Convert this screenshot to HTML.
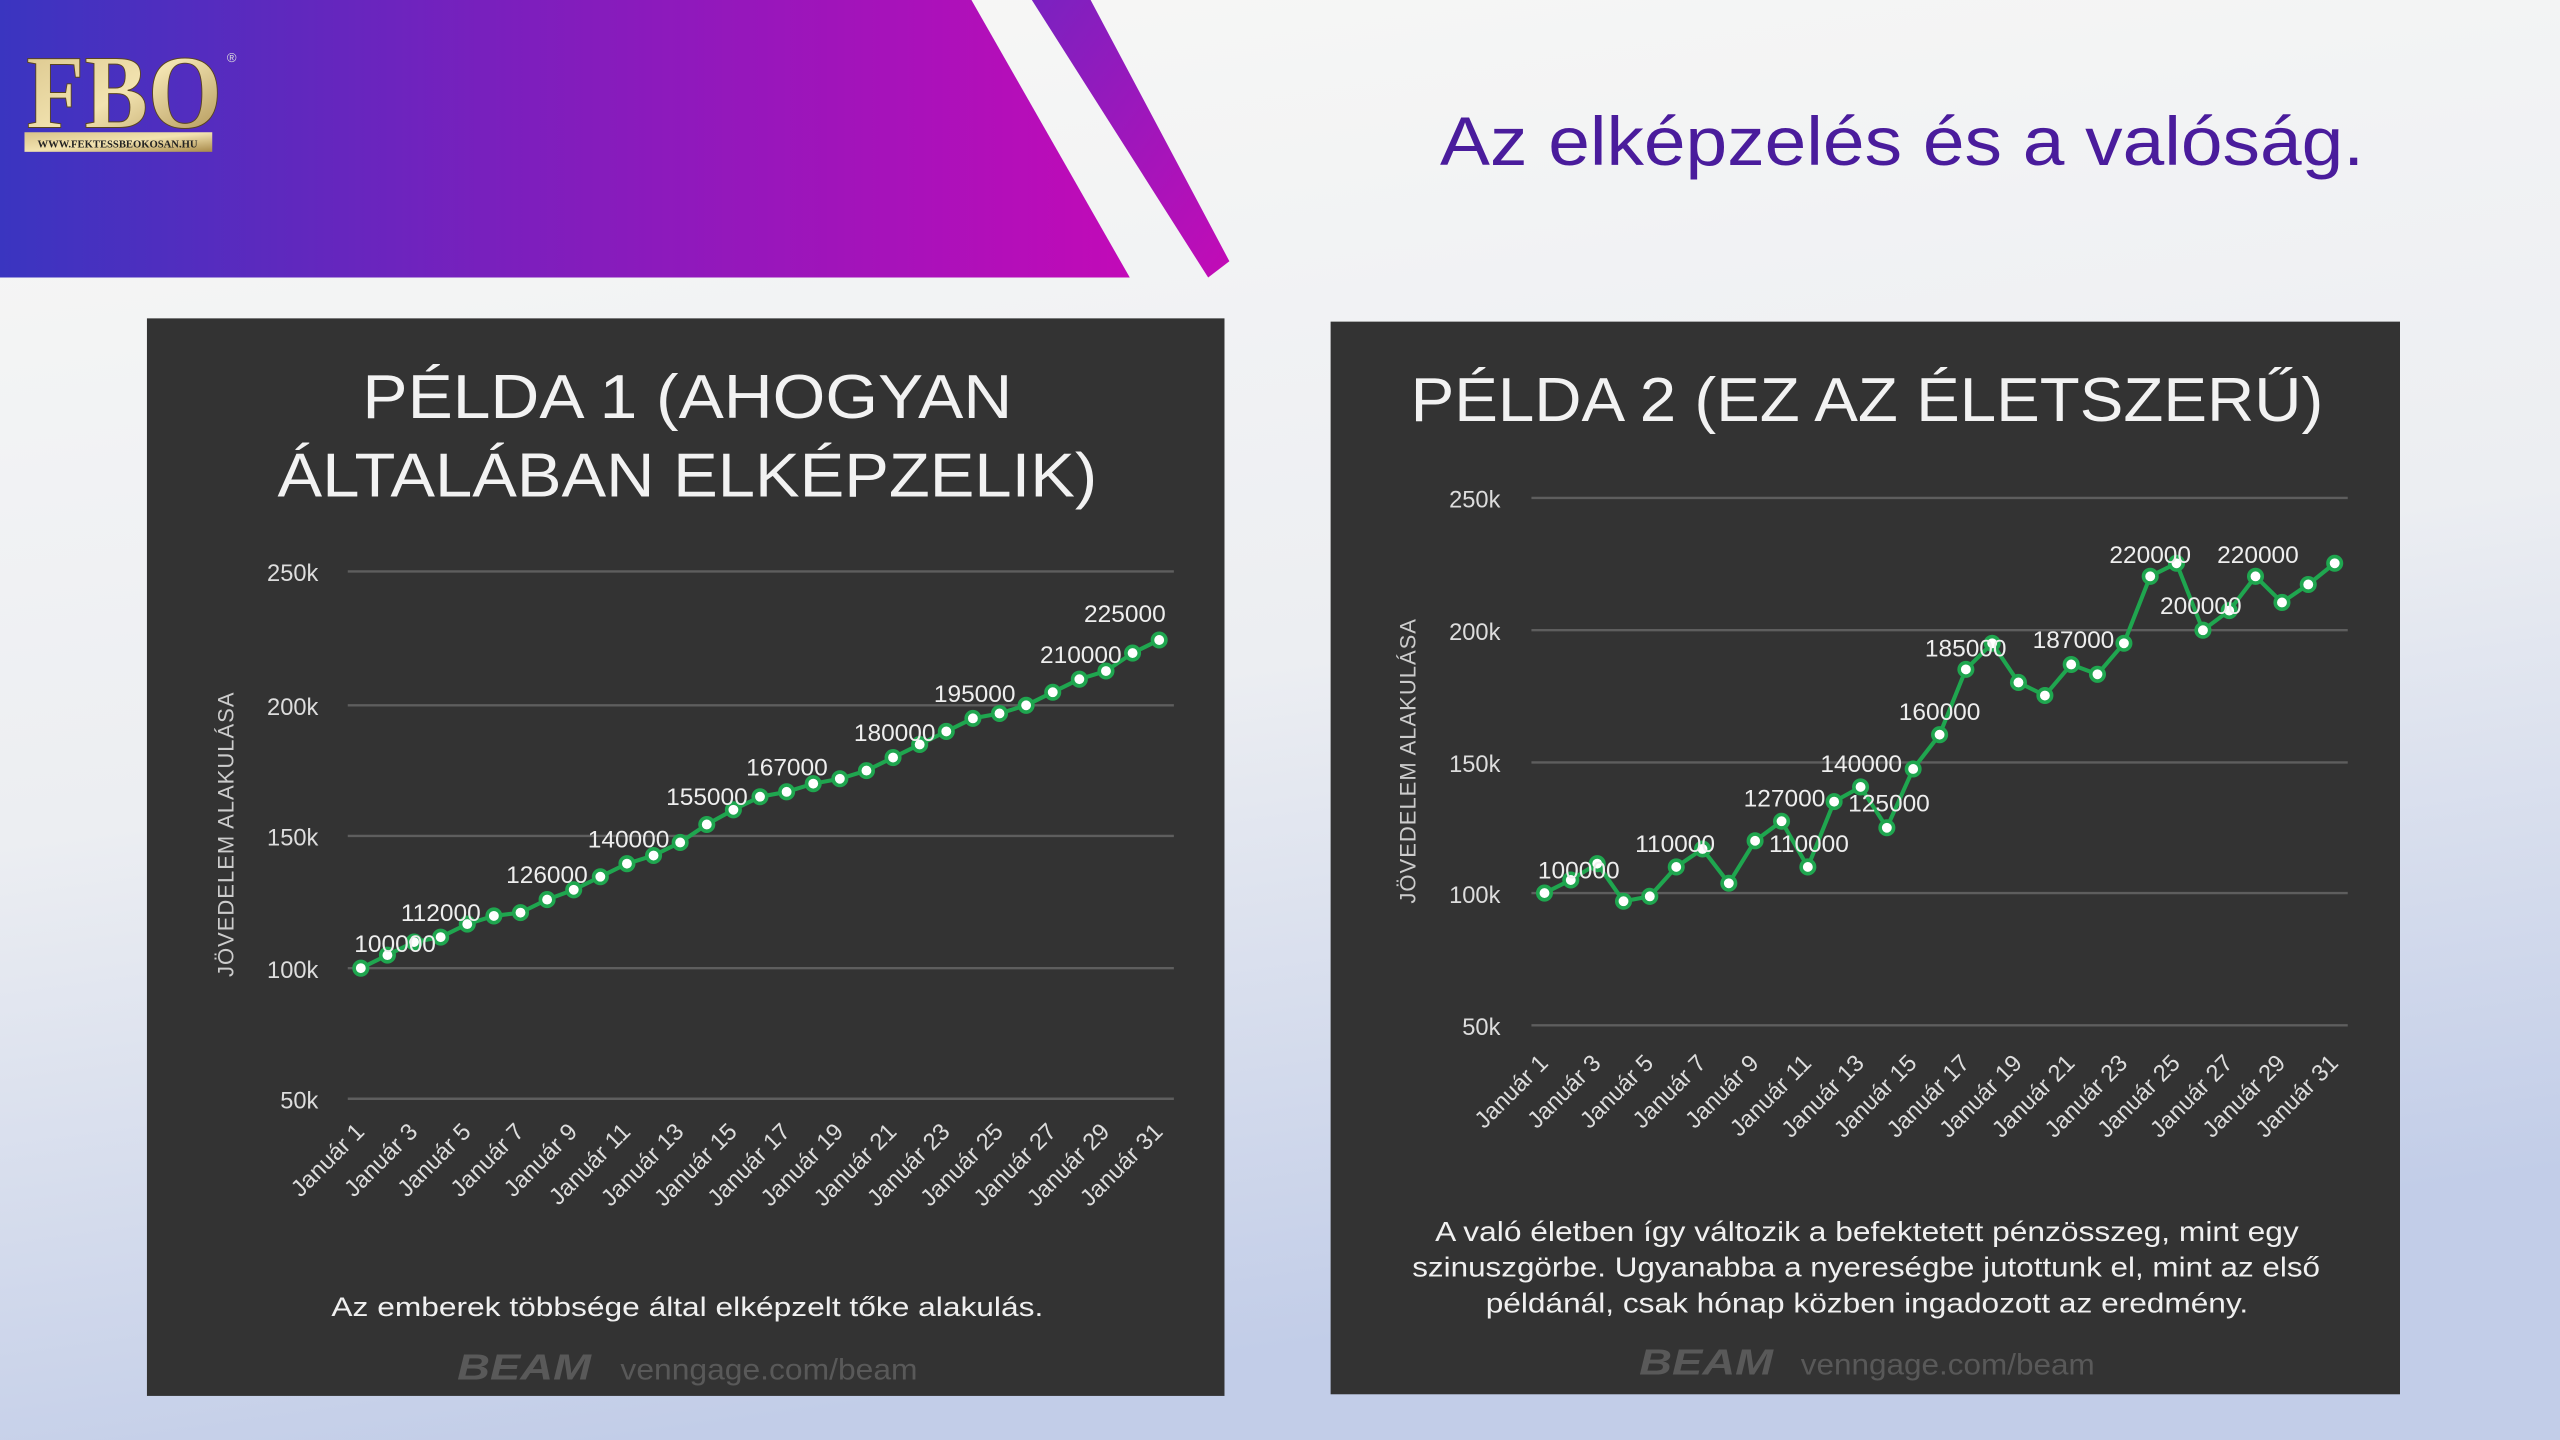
<!DOCTYPE html>
<html><head><meta charset="utf-8">
<style>
html,body{margin:0;padding:0;width:2560px;height:1440px;overflow:hidden;}
svg{display:block}
text{font-family:"Liberation Sans",sans-serif;}
</style></head>
<body>
<svg width="2560" height="1440" viewBox="0 0 1568 882" preserveAspectRatio="none" xmlns="http://www.w3.org/2000/svg">
<defs>
<linearGradient id="bg" x1="0" y1="0" x2="0.25" y2="1">
<stop offset="0" stop-color="#f8f8f6"/><stop offset="0.55" stop-color="#eceef2"/><stop offset="1" stop-color="#c2cde8"/>
</linearGradient>
<linearGradient id="ban" x1="0" y1="0" x2="1" y2="0">
<stop offset="0" stop-color="#3a35c0"/><stop offset="0.45" stop-color="#7b1fbd"/><stop offset="1" stop-color="#c20ab8"/>
</linearGradient>
<linearGradient id="str" x1="0" y1="0" x2="1" y2="1">
<stop offset="0" stop-color="#7a22c0"/><stop offset="1" stop-color="#c30bb6"/>
</linearGradient>
<linearGradient id="gold" x1="0" y1="0" x2="1" y2="1">
<stop offset="0" stop-color="#d9c48a"/><stop offset="0.5" stop-color="#f2e3b0"/><stop offset="1" stop-color="#a88a4a"/>
</linearGradient>
<marker id="dot" viewBox="0 0 12 12" refX="6" refY="6" markerWidth="11" markerHeight="11" markerUnits="userSpaceOnUse">
<circle cx="6" cy="6" r="4.5" fill="#fff" stroke="#1fa64f" stroke-width="2.4"/>
</marker>
</defs>
<rect width="1568" height="882" fill="url(#bg)"/>
<!-- banner -->
<polygon points="0,0 595,0 692,170 0,170" fill="url(#ban)"/>
<polygon points="632,0 668,0 753,160 740,170" fill="url(#str)"/>
<!-- logo -->
<text x="16" y="78" style="font-family:'Liberation Serif',serif;font-weight:bold" font-size="64" fill="url(#gold)" stroke="#5a4520" stroke-width="0.6" textLength="120" lengthAdjust="spacingAndGlyphs">FBO</text>
<text x="139" y="38" font-size="8" fill="#ddd">®</text>
<rect x="15" y="81" width="115" height="12" fill="url(#gold)"/>
<text x="72" y="90.5" font-size="6.5" font-weight="bold" fill="#222" text-anchor="middle" style="font-family:'Liberation Serif',serif">WWW.FEKTESSBEOKOSAN.HU</text>
<!-- title -->
<text x="882" y="101" font-size="42" fill="#4a1c9c" textLength="566" lengthAdjust="spacingAndGlyphs">Az elképzelés és a valóság.</text>

<!-- LEFT PANEL -->
<rect x="90" y="195" width="660" height="660" fill="#333333"/>
<text x="222" y="256" font-size="38" fill="#f2f2f2" textLength="398" lengthAdjust="spacingAndGlyphs">PÉLDA 1 (AHOGYAN</text>
<text x="170" y="304" font-size="38" fill="#f2f2f2" textLength="502" lengthAdjust="spacingAndGlyphs">ÁLTALÁBAN ELKÉPZELIK)</text>
<g stroke="#5e5e5e" stroke-width="1.5">
<line x1="213" y1="350" x2="719" y2="350"/><line x1="213" y1="432" x2="719" y2="432"/><line x1="213" y1="512" x2="719" y2="512"/><line x1="213" y1="593" x2="719" y2="593"/><line x1="213" y1="673" x2="719" y2="673"/>
</g>
<g font-size="14.5" fill="#ddd" text-anchor="end">
<text x="195" y="356">250k</text><text x="195" y="438">200k</text><text x="195" y="518">150k</text><text x="195" y="599">100k</text><text x="195" y="679">50k</text>
</g>
<text transform="translate(143 511) rotate(-90)" font-size="13.5" fill="#ccc" text-anchor="middle" letter-spacing="0.6">JÖVEDELEM ALAKULÁSA</text>
<polyline fill="none" stroke="#1fa64f" stroke-width="2.5" marker-start="url(#dot)" marker-mid="url(#dot)" marker-end="url(#dot)"
points="221,593 237.3,585 253.6,577 269.9,574 286.2,566 302.5,561 318.8,559 335.1,551 351.4,545 367.7,537 384,529 400.3,524 416.6,516 432.9,505 449.2,496 465.5,488 481.8,485 498.1,480 514.4,477 530.7,472 547,464 563.3,456 579.6,448 595.9,440 612.2,437 628.5,432 644.8,424 661.1,416 677.4,411 693.7,400 710,392"/>
<g font-size="15" fill="#eee" text-anchor="middle">
<text x="242" y="583">100000</text><text x="270" y="564">112000</text><text x="335" y="541">126000</text><text x="385" y="519">140000</text><text x="433" y="493">155000</text><text x="482" y="475">167000</text><text x="548" y="454">180000</text><text x="597" y="430">195000</text><text x="662" y="406">210000</text><text x="689" y="381">225000</text>
</g>
<g font-size="14.5" fill="#ddd" text-anchor="end">
<text transform="translate(224 694) rotate(-45)">Január 1</text>
<text transform="translate(256.6 694) rotate(-45)">Január 3</text>
<text transform="translate(289.2 694) rotate(-45)">Január 5</text>
<text transform="translate(321.8 694) rotate(-45)">Január 7</text>
<text transform="translate(354.4 694) rotate(-45)">Január 9</text>
<text transform="translate(387 694) rotate(-45)">Január 11</text>
<text transform="translate(419.6 694) rotate(-45)">Január 13</text>
<text transform="translate(452.2 694) rotate(-45)">Január 15</text>
<text transform="translate(484.8 694) rotate(-45)">Január 17</text>
<text transform="translate(517.4 694) rotate(-45)">Január 19</text>
<text transform="translate(550 694) rotate(-45)">Január 21</text>
<text transform="translate(582.6 694) rotate(-45)">Január 23</text>
<text transform="translate(615.2 694) rotate(-45)">Január 25</text>
<text transform="translate(647.8 694) rotate(-45)">Január 27</text>
<text transform="translate(680.4 694) rotate(-45)">Január 29</text>
<text transform="translate(713 694) rotate(-45)">Január 31</text>
</g>
<text x="203" y="806" font-size="16.5" fill="#f0f0f0" textLength="436" lengthAdjust="spacingAndGlyphs">Az emberek többsége által elképzelt tőke alakulás.</text>
<text x="280" y="845" font-size="22" font-weight="bold" font-style="italic" fill="#595959" textLength="82" lengthAdjust="spacingAndGlyphs">BEAM</text>
<text x="380" y="845" font-size="18" fill="#595959" textLength="182" lengthAdjust="spacingAndGlyphs">venngage.com/beam</text>

<!-- RIGHT PANEL -->
<rect x="815" y="197" width="655" height="657" fill="#333333"/>
<text x="864" y="258" font-size="38" fill="#f2f2f2" textLength="559" lengthAdjust="spacingAndGlyphs">PÉLDA 2 (EZ AZ ÉLETSZERŰ)</text>
<g stroke="#5e5e5e" stroke-width="1.5">
<line x1="938" y1="305" x2="1438" y2="305"/><line x1="938" y1="386" x2="1438" y2="386"/><line x1="938" y1="467" x2="1438" y2="467"/><line x1="938" y1="547" x2="1438" y2="547"/><line x1="938" y1="628" x2="1438" y2="628"/>
</g>
<g font-size="14.5" fill="#ddd" text-anchor="end">
<text x="919" y="311">250k</text><text x="919" y="392">200k</text><text x="919" y="473">150k</text><text x="919" y="553">100k</text><text x="919" y="634">50k</text>
</g>
<text transform="translate(867 466) rotate(-90)" font-size="13.5" fill="#ccc" text-anchor="middle" letter-spacing="0.6">JÖVEDELEM ALAKULÁSA</text>
<polyline fill="none" stroke="#1fa64f" stroke-width="2.5" marker-start="url(#dot)" marker-mid="url(#dot)" marker-end="url(#dot)"
points="946,547 962.1,539 978.3,529 994.4,552 1010.5,549 1026.7,531 1042.8,520 1058.9,541 1075,515 1091.2,503 1107.3,531 1123.4,491 1139.6,482 1155.7,507 1171.8,471 1188,450 1204.1,410 1220.2,394 1236.3,418 1252.5,426 1268.6,407 1284.7,413 1300.9,394 1317,353 1333.1,345 1349.3,386 1365.4,374 1381.5,353 1397.7,369 1413.8,358 1430,345"/>
<g font-size="15" fill="#eee" text-anchor="middle">
<text x="967" y="538">100000</text><text x="1026" y="522">110000</text><text x="1093" y="494">127000</text><text x="1108" y="522">110000</text><text x="1140" y="473">140000</text><text x="1157" y="497">125000</text><text x="1188" y="441">160000</text><text x="1204" y="402">185000</text><text x="1270" y="397">187000</text><text x="1317" y="345">220000</text><text x="1348" y="376">200000</text><text x="1383" y="345">220000</text>
</g>
<g font-size="14.5" fill="#ddd" text-anchor="end">
<text transform="translate(949 652) rotate(-45)">Január 1</text>
<text transform="translate(981.3 652) rotate(-45)">Január 3</text>
<text transform="translate(1013.5 652) rotate(-45)">Január 5</text>
<text transform="translate(1045.8 652) rotate(-45)">Január 7</text>
<text transform="translate(1078 652) rotate(-45)">Január 9</text>
<text transform="translate(1110.3 652) rotate(-45)">Január 11</text>
<text transform="translate(1142.6 652) rotate(-45)">Január 13</text>
<text transform="translate(1174.8 652) rotate(-45)">Január 15</text>
<text transform="translate(1207.1 652) rotate(-45)">Január 17</text>
<text transform="translate(1239.3 652) rotate(-45)">Január 19</text>
<text transform="translate(1271.6 652) rotate(-45)">Január 21</text>
<text transform="translate(1303.9 652) rotate(-45)">Január 23</text>
<text transform="translate(1336.1 652) rotate(-45)">Január 25</text>
<text transform="translate(1368.4 652) rotate(-45)">Január 27</text>
<text transform="translate(1400.6 652) rotate(-45)">Január 29</text>
<text transform="translate(1433 652) rotate(-45)">Január 31</text>
</g>
<g font-size="17" fill="#f0f0f0">
<text x="879" y="760" textLength="529" lengthAdjust="spacingAndGlyphs">A való életben így változik a befektetett pénzösszeg, mint egy</text>
<text x="865" y="782" textLength="556" lengthAdjust="spacingAndGlyphs">szinuszgörbe. Ugyanabba a nyereségbe jutottunk el, mint az első</text>
<text x="910" y="804" textLength="467" lengthAdjust="spacingAndGlyphs">példánál, csak hónap közben ingadozott az eredmény.</text>
</g>
<text x="1004" y="842" font-size="22" font-weight="bold" font-style="italic" fill="#595959" textLength="82" lengthAdjust="spacingAndGlyphs">BEAM</text>
<text x="1103" y="842" font-size="18" fill="#595959" textLength="180" lengthAdjust="spacingAndGlyphs">venngage.com/beam</text>
</svg>
</body></html>
